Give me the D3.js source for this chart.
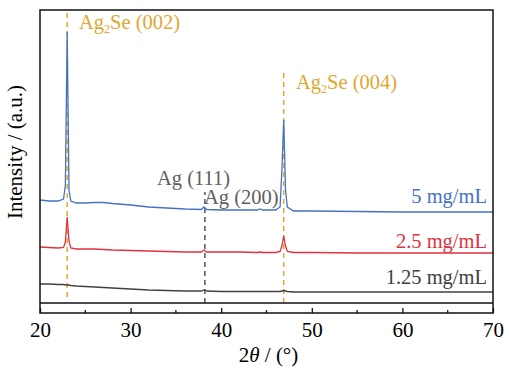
<!DOCTYPE html>
<meta charset="UTF-8">
<title>XRD</title>
<style>
  body { margin: 0; background: #fff; }
  svg text { font-family: "Liberation Serif", "Times New Roman", serif; }
</style>
<script src="https://d3js.org/d3.v7.min.js"></script>
<body>
<script>
  // 2theta grid (deg) shared by the three patterns
  var twoTheta = [20, 21, 22, 22.6, 22.8, 23.0, 23.2, 23.4, 24, 25, 26, 27, 28, 30, 32, 34, 36,
    37.8, 38.1, 38.4, 40, 42, 44, 44.3, 44.6, 46, 46.5, 46.7, 46.9, 47.1, 47.3, 48, 50, 55, 60, 65, 70];

  // intensities (a.u., already offset)
  var i5 = [113, 112, 112, 114, 128, 281, 123, 112, 110, 110, 110.5, 110.5, 109.5, 108, 106, 105, 104,
    103.5, 106, 103.5, 103, 103, 103, 104, 103, 103, 106, 143, 193, 123, 106, 102, 102, 101.5, 101, 101, 101];
  var i25 = [66, 65.5, 65, 65.5, 71, 96, 72, 65, 64, 64, 64, 63.5, 63, 62.5, 62, 61.5, 61,
    61, 63, 61, 61, 61, 60.5, 61, 60.5, 60.5, 61.5, 67, 77, 67, 61.5, 60.5, 60.5, 60, 60, 60, 60];
  var i125 = [29, 29, 28.5, 28.5, 28, 28, 28, 27.5, 27, 26.5, 26, 25.5, 25, 24, 23, 22.5, 22,
    22, 23, 22, 21.5, 21.5, 21.5, 21.5, 21.5, 21.5, 21.5, 22, 22.5, 22, 21.5, 21, 21, 21, 21, 21, 21];

  var seriesNames = ["5 mg/mL", "2.5 mg/mL", "1.25 mg/mL"];
  var seriesColors = ["#4472C4", "#E03240", "#404040"];
  var seriesLabelY = [117, 72, 36];

  var peakNames = ["Ag2Se (002)", "Ag2Se (004)", "Ag (111)", "Ag (200)"];
  var peakPos = [23.0, 46.9, 38.2];

  var xTicks = [20, 30, 40, 50, 60, 70];
  var xMinor = [25, 35, 45, 55, 65];

  var W = 509, H = 369;
  var m = { left: 40, right: 16, top: 10, bottom: 56 };
  var fs = "20.5px";

  var svg = d3.select("body").append("svg").attr("width", W).attr("height", H);

  var x = d3.scaleLinear().domain([20, 70]).range([m.left, W - m.right]);
  var y = d3.scaleLinear().domain([0, 303]).range([H - m.bottom, m.top]);

  var line = d3.line()
    .x(function(d) { return x(d[0]); })
    .y(function(d) { return y(d[1]); });

  // dashed reference lines
  var gold = "#E0A830";
  function vdash(pos, y0, y1, color) {
    svg.append("line")
      .attr("x1", x(pos)).attr("x2", x(pos))
      .attr("y1", y(y0)).attr("y2", y(y1))
      .style("stroke", color)
      .style("stroke-width", 1.5)
      .style("stroke-dasharray", "5,4");
  }
  vdash(peakPos[0], 16, 300, gold);
  vdash(peakPos[1], 10, 240, gold);
  vdash(peakPos[2], 10, 121, "#555");

  [i5, i25, i125].forEach(function(vals, k) {
    var pts = twoTheta.map(function(t, j) { return [t, vals[j]]; });
    svg.append("path")
      .attr("d", line(pts))
      .style("fill", "none")
      .style("stroke", seriesColors[k])
      .style("stroke-width", 1.3);

    svg.append("text")
      .attr("x", x(70) - 6)
      .attr("y", y(seriesLabelY[k]))
      .attr("dy", ".35em")
      .attr("text-anchor", "end")
      .style("font-size", fs)
      .style("fill", seriesColors[k])
      .text(seriesNames[k]);
  });

  // frame + inner baseline
  svg.append("rect")
    .attr("x", m.left).attr("y", m.top)
    .attr("width", W - m.left - m.right).attr("height", H - m.top - m.bottom)
    .style("fill", "none").style("stroke", "#111").style("stroke-width", 1.5);
  svg.append("line")
    .attr("x1", m.left).attr("x2", W - m.right)
    .attr("y1", y(10)).attr("y2", y(10))
    .style("stroke", "#111").style("stroke-width", 1.3);

  var axis = d3.axisBottom(x).tickValues(xTicks).tickSize(-5).tickPadding(9);
  var gx = svg.append("g")
    .attr("transform", "translate(0," + (H - m.bottom) + ")")
    .call(axis);
  gx.select(".domain").remove();
  gx.selectAll("line").style("stroke", "#111").style("stroke-width", 1.3);
  gx.selectAll("text").style("font-size", "21px").style("fill", "#000");
  gx.selectAll(".minor").data(xMinor).enter().append("line")
    .attr("x1", function(d) { return x(d); }).attr("x2", function(d) { return x(d); })
    .attr("y1", 0).attr("y2", -3)
    .style("stroke", "#111").style("stroke-width", 1.3);

  // axis titles
  var xt = svg.append("text")
    .attr("x", x(45) + 2).attr("y", 362)
    .attr("text-anchor", "middle")
    .style("font-size", "21px");
  xt.append("tspan").text("2");
  xt.append("tspan").style("font-style", "italic").text("θ");
  xt.append("tspan").text(" / (°)");

  svg.append("text")
    .attr("transform", "translate(22," + 152 + ") rotate(-90)")
    .attr("text-anchor", "middle")
    .style("font-size", "21px")
    .text("Intensity / (a.u.)");

  // peak labels
  function subLabel(px, py, color, hkl) {
    var t = svg.append("text").attr("x", px).attr("y", py)
      .style("font-size", fs).style("fill", color);
    t.append("tspan").text("Ag");
    t.append("tspan").attr("dy", 4).style("font-size", "12px").text("2");
    t.append("tspan").attr("dy", -4).text("Se " + hkl);
  }
  subLabel(79, 29, gold, "(002)");
  subLabel(296, 89, gold, "(004)");

  svg.append("text").attr("x", 157).attr("y", 185)
    .style("font-size", fs).style("fill", "#606060").text(peakNames[2]);
  svg.append("text").attr("x", 204).attr("y", 204)
    .style("font-size", fs).style("fill", "#606060").text(peakNames[3]);
</script>
</body>
